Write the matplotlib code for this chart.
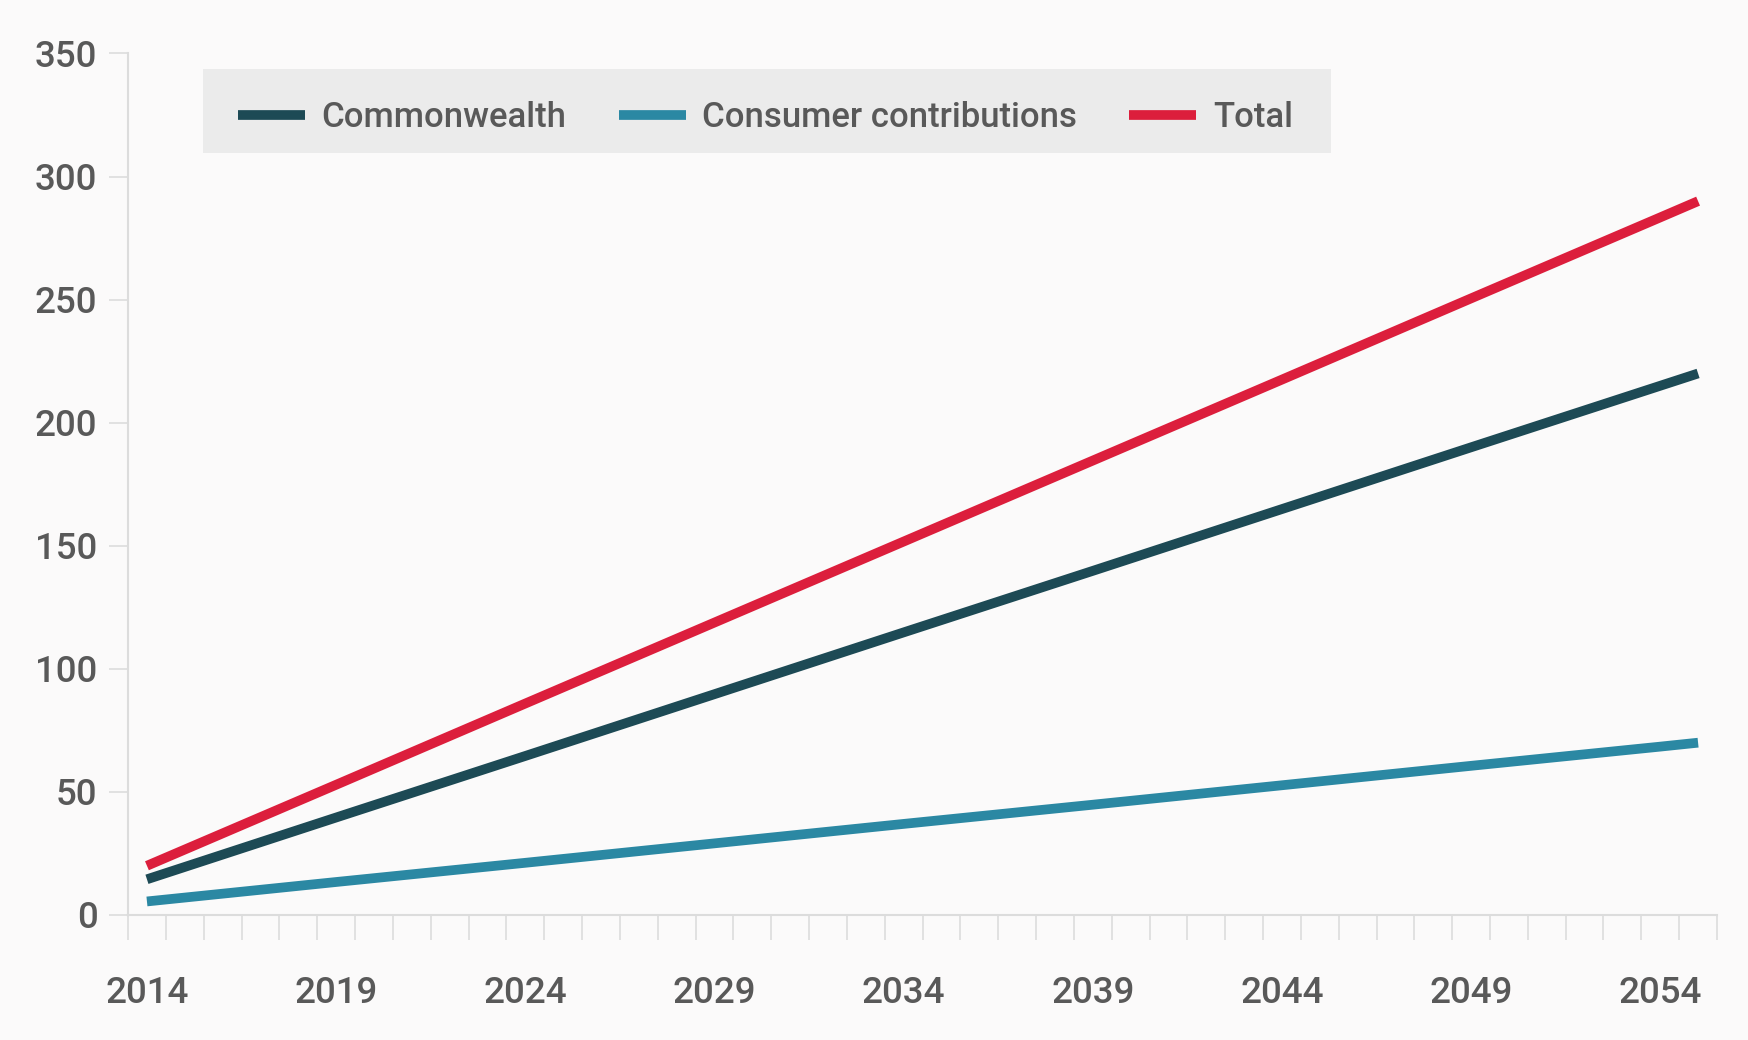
import matplotlib
matplotlib.use("Agg")
import matplotlib.pyplot as plt
from matplotlib import font_manager as fm
from matplotlib.patches import Rectangle
from matplotlib.ticker import FixedLocator

# valeurs (lignes droites, points aux années étiquetées)
years = [2014, 2019, 2024, 2029, 2034, 2039, 2044, 2049, 2054, 2055]
commonwealth = [14.5, 39.6, 64.6, 89.7, 114.8, 139.8, 164.9, 190.0, 215.0, 220.0]
consumer = [5.5, 13.4, 21.2, 29.1, 37.0, 44.8, 52.7, 60.6, 68.4, 70.0]
total = [20.0, 52.9, 85.9, 118.8, 151.7, 184.6, 217.5, 250.5, 283.4, 290.0]

xtick_years = [2014, 2019, 2024, 2029, 2034, 2039, 2044, 2049, 2054]
yticks = [0, 50, 100, 150, 200, 250, 300, 350]

# police étroite si dispo, sinon Roboto
installed = {f.name for f in fm.fontManager.ttflist}
if "Liberation Sans Narrow" in installed:
    FAMILY, FS, LFS = "Liberation Sans Narrow", 29, 29
else:
    FAMILY, FS, LFS = "Roboto", 26.5, 25
plt.rcParams["font.family"] = [FAMILY, "DejaVu Sans"]
plt.rcParams["font.weight"] = "medium"

BG = "#fbfafa"
TXT = "#595959"
AX = "#dcdcdc"

fig = plt.figure(figsize=(17.49, 10.40), dpi=100, facecolor=BG)
ax = fig.add_axes([0.0732, 0.1202, 0.9085, 0.8284], facecolor=BG)

ax.plot(years, commonwealth, color="#1d4a55", lw=7, solid_capstyle="butt", label="Commonwealth")
ax.plot(years, consumer, color="#2b88a3", lw=7, solid_capstyle="butt", label="Consumer contributions")
ax.plot(years, total, color="#dc1e3c", lw=7, solid_capstyle="butt", label="Total")

ax.set_xlim(2013.5, 2055.5)
ax.set_ylim(0, 350)
ax.set_yticks(yticks)
ax.set_xticks(xtick_years)
ax.xaxis.set_minor_locator(FixedLocator([y + 0.5 for y in range(2013, 2056)]))

for s in ["top", "right"]:
    ax.spines[s].set_visible(False)
for s in ["left", "bottom"]:
    ax.spines[s].set_color(AX)
    ax.spines[s].set_linewidth(1.5)

ax.tick_params(axis="y", length=14, width=1.2, color=AX, pad=8, labelsize=FS, labelcolor=TXT)
ax.tick_params(axis="x", which="major", length=0, pad=44, labelsize=FS, labelcolor=TXT)
ax.tick_params(axis="x", which="minor", length=18, width=1.2, color=AX)

# boîte grise de la légende
ax.add_patch(Rectangle((0.0472, 0.8845), 0.7098, 0.0975, transform=ax.transAxes,
                       facecolor="#ebebeb", edgecolor="none", zorder=1))
leg = ax.legend(loc="center left", bbox_to_anchor=(0.0692, 0.926), ncol=3, frameon=False,
                fontsize=LFS, labelcolor=TXT, handlelength=1.93, handletextpad=0.48,
                columnspacing=1.5, borderpad=0, borderaxespad=0)
for h in leg.get_lines():
    h.set_linewidth(7)

fig.savefig("out.png", dpi=100, facecolor=BG)
